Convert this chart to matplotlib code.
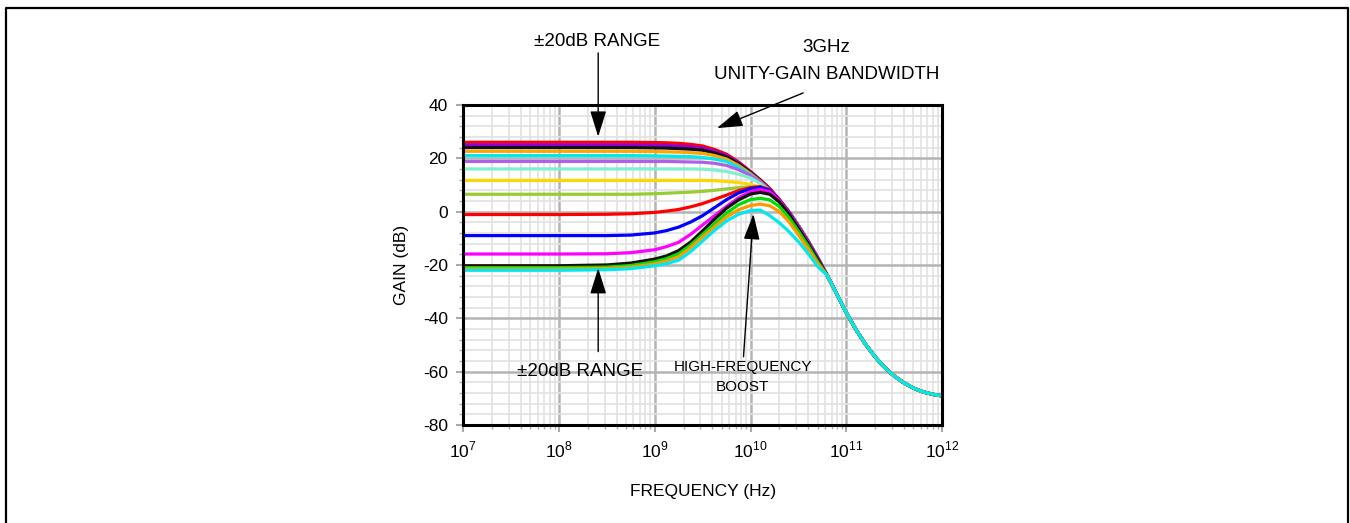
import numpy as np
import matplotlib
matplotlib.use("Agg")
import matplotlib.pyplot as plt
from matplotlib.ticker import FixedLocator, MultipleLocator, NullFormatter

plt.rcParams['font.family'] = ['Liberation Sans', 'DejaVu Sans']
plt.rcParams['mathtext.fontset'] = 'custom'
plt.rcParams['mathtext.rm'] = 'Liberation Sans'
plt.rcParams['axes.unicode_minus'] = False

# log10(frequency) for the low part of each curve, then the shared roll-off
head_exp = [7, 8, 8.5, 8.75, 9, 9.125, 9.25, 9.375, 9.5, 9.625, 9.75, 9.875, 10,
            10.1, 10.2, 10.3, 10.4, 10.5, 10.6, 10.7]
tail_exp = [10.8, 10.9, 11.0, 11.1, 11.2, 11.3, 11.4, 11.5, 11.6, 11.7, 11.8, 11.9, 12.0]
tail_db = [-24, -31, -38, -44.3, -49.8, -54.5, -58.5, -61.7, -64.2, -66.2, -67.6, -68.5, -69.1]

# gain curves (dB), top to bottom at low frequency
colors = ['#ff0000', '#9400d3', '#111111', '#ffa500', '#00e8f0', '#b060e8', '#80f0d0',
          '#ffd700', '#99cc33', '#ff0000', '#0000ff', '#ff00ff', '#111111', '#00dd00',
          '#ff9900', '#00e8f0']
gains = [
    [26, 26, 26, 26, 25.9, 25.8, 25.6, 25.2, 24.6, 23.3, 21.5, 18.6, 15.0,
     12.0, 8.7, 4.5, 0.0, -5.3, -11.0, -17.2],
    [25, 25, 25, 25, 24.9, 24.8, 24.6, 24.3, 23.8, 22.7, 21.0, 18.3, 14.8,
     11.8, 8.5, 4.4, -0.1, -5.3, -11.0, -17.2],
    [24, 24, 24, 24, 23.9, 23.8, 23.6, 23.4, 23.0, 22.0, 20.5, 17.9, 14.6,
     11.6, 8.3, 4.3, -0.1, -5.3, -11.0, -17.2],
    [22.6, 22.6, 22.6, 22.6, 22.5, 22.4, 22.3, 22.1, 21.8, 21.0, 19.7, 17.3, 14.2,
     11.3, 8.1, 4.2, -0.2, -5.4, -11.1, -17.3],
    [21, 21, 21, 21, 20.9, 20.8, 20.7, 20.6, 20.3, 19.7, 18.8, 16.6, 13.8,
     11.0, 7.9, 4.1, -0.3, -5.4, -11.1, -17.3],
    [18.8, 18.8, 18.8, 18.8, 18.8, 18.8, 18.7, 18.6, 18.5, 18.1, 17.3, 15.7, 13.5,
     11.0, 8.0, 4.1, -0.3, -5.4, -11.1, -17.3],
    [16, 16, 16, 16, 16, 16, 16, 16, 15.9, 15.6, 15.0, 14.0, 12.6,
     10.5, 7.8, 4.0, -0.3, -5.4, -11.1, -17.3],
    [11.7, 11.7, 11.7, 11.7, 11.7, 11.7, 11.7, 11.7, 11.7, 11.6, 11.3, 10.9, 10.2,
     9.0, 7.0, 3.8, -0.4, -5.5, -11.2, -17.4],
    [6.5, 6.5, 6.5, 6.5, 6.7, 6.9, 7.1, 7.3, 7.6, 8.0, 8.5, 9.0, 9.3,
     9.0, 7.5, 4.0, -0.4, -5.5, -11.2, -17.4],
    [-1.1, -1.1, -1.0, -0.8, -0.3, 0.2, 0.8, 1.8, 3.0, 4.6, 6.2, 7.9, 9.0,
     9.4, 8.2, 4.4, -0.2, -5.6, -11.2, -17.4],
    [-9, -9, -9, -8.8, -8.0, -7.1, -5.8, -3.9, -1.5, 1.5, 4.5, 7.0, 8.6,
     9.0, 8.0, 4.2, -0.3, -5.7, -11.3, -17.5],
    [-15.9, -15.9, -15.8, -15.4, -14.3, -13.1, -11.5, -8.5, -5.0, -1.5, 2.0, 5.2, 7.5,
     8.3, 7.5, 4.1, -0.5, -5.9, -11.5, -17.7],
    [-20.3, -20.3, -20.0, -19.3, -17.8, -16.6, -14.6, -11.4, -7.2, -2.8, 1.3, 4.4, 6.6,
     7.2, 6.5, 3.6, -0.9, -6.4, -12.0, -18.0],
    [-21, -21, -20.8, -20.2, -18.8, -17.6, -15.8, -12.5, -8.5, -4.5, -0.5, 2.6, 4.5,
     5.0, 4.4, 1.9, -2.2, -7.4, -12.8, -18.8],
    [-21.5, -21.5, -21.3, -20.8, -19.6, -18.5, -16.9, -13.5, -9.5, -5.7, -2.0, 0.7, 2.3,
     2.8, 2.2, 0.0, -3.8, -8.8, -14.0, -19.5],
    [-22, -22, -21.8, -21.4, -20.3, -19.5, -18.2, -15.0, -11.0, -7.0, -3.5, -1.0, 0.4,
     0.6, -1.5, -4.2, -7.5, -11.3, -15.7, -20.6],
]

fig = plt.figure(figsize=(13.5, 5.23), dpi=100)

# outer frame
fig.add_artist(plt.Line2D([0.0045, 0.0045, 0.9985, 0.9985], [0.0, 0.984, 0.984, 0.0],
                          transform=fig.transFigure, color='black', lw=1.6))

ax = fig.add_axes([0.343, 0.1874, 0.355, 0.612])
freq = [10.0 ** e for e in head_exp + tail_exp]
for g, c in zip(gains, colors):
    ax.plot(freq, g + tail_db, color=c, lw=2.3, solid_joinstyle='round',
            solid_capstyle='round', zorder=3)

ax.set_xscale('log')
ax.set_xlim(1e7, 1e12)
ax.set_ylim(-80, 40)
ax.yaxis.set_major_locator(MultipleLocator(20))
ax.yaxis.set_minor_locator(MultipleLocator(4))
ax.xaxis.set_major_locator(FixedLocator([1e7, 1e8, 1e9, 1e10, 1e11, 1e12]))
ax.set_xticklabels(['10$^{7}$', '10$^{8}$', '10$^{9}$', '10$^{10}$', '10$^{11}$', '10$^{12}$'])
ax.xaxis.set_minor_formatter(NullFormatter())
ax.grid(which='major', color='#b4b4b4', lw=1.8, zorder=0)
ax.grid(which='minor', color='#e2e2e2', lw=1.2, zorder=0)
ax.tick_params(which='both', direction='out', color='#aaaaaa', labelsize=12.5, pad=6)
ax.tick_params(which='major', length=5, width=1.5)
ax.tick_params(which='minor', length=3, width=1.0)
for s in ax.spines.values():
    s.set_linewidth(2.2)
    s.set_zorder(5)

ax.set_xlabel('FREQUENCY (Hz)', fontsize=12.5, labelpad=17)
ax.set_ylabel('GAIN (dB)', fontsize=12.5, labelpad=10)

# annotations
arr = dict(arrowstyle='-|>,head_width=0.5,head_length=1.6', color='black', lw=1.0,
           mutation_scale=10, shrinkA=0, shrinkB=0)
ax.text(2.5e8, 63.8, '±20dB RANGE', ha='center', va='center', fontsize=13.5, clip_on=False)
ax.annotate('', xy=(2.57e8, 28.1), xytext=(2.57e8, 59.5), arrowprops=arr, annotation_clip=False)

ax.text(6.2e10, 61.5, '3GHz', ha='center', va='center', fontsize=13.5, clip_on=False)
ax.text(6.2e10, 51.3, 'UNITY-GAIN BANDWIDTH', ha='center', va='center', fontsize=13.5,
        clip_on=False)
ax.annotate('', xy=(4.45e9, 31.3), xytext=(3.54e10, 44.5), arrowprops=arr, annotation_clip=False)

ax.text(1.66e8, -60.0, '±20dB RANGE', ha='center', va='center', fontsize=13.5, clip_on=False)
ax.annotate('', xy=(2.57e8, -21.2), xytext=(2.57e8, -52.5), arrowprops=arr,
            annotation_clip=False)

ax.text(8.3e9, -58.2, 'HIGH-FREQUENCY', ha='center', va='center', fontsize=11, clip_on=False)
ax.text(8.3e9, -65.7, 'BOOST', ha='center', va='center', fontsize=11, clip_on=False)
ax.annotate('', xy=(1.07e10, -0.9), xytext=(8.43e9, -54.4), arrowprops=arr,
            annotation_clip=False)

fig.savefig('out.png', dpi=100)
